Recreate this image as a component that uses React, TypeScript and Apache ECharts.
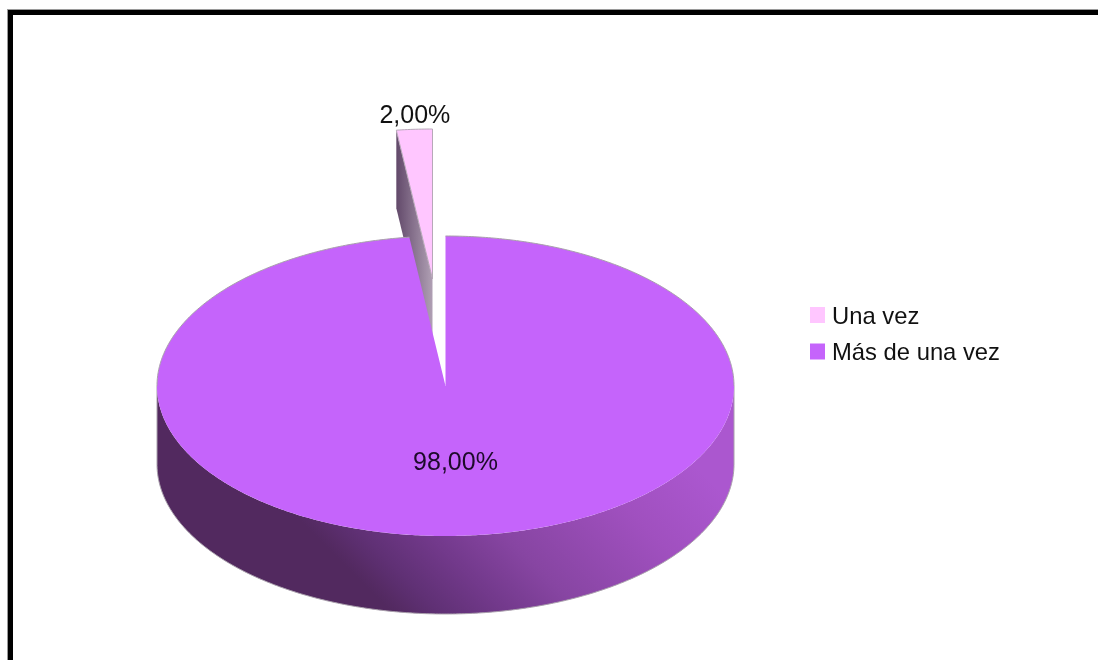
import React, { useEffect, useRef } from "react";
import * as echarts from "echarts";

const categories = ["Una vez", "Más de una vez"];
const values = [2, 98];
const colors = ["#ffc6ff", "#c564fb"];

const CX = 445.5, CY = 386, RX = 288.5, RY = 150, DEPTH = 78;
const EX = -13, EY = -107;
const FONT = '"Liberation Sans", Arial, sans-serif';
const EDGE = "#a9a0ac";

const total = values.reduce((a, b) => a + b, 0);
const fmt = (v: number) => ((v / total) * 100).toFixed(2).replace(".", ",") + "%";
const pt = (cx: number, cy: number, a: number) => [cx + RX * Math.sin(a), cy - RY * Math.cos(a)];
const arc = (cx: number, cy: number, a0: number, a1: number) => {
  const n = Math.max(2, Math.ceil(Math.abs(a1 - a0) / 0.01));
  const out: number[][] = [];
  for (let i = 0; i <= n; i++) out.push(pt(cx, cy, a0 + ((a1 - a0) * i) / n));
  return out;
};

const renderExploded = (_: any, api: any) => {
  const sweep = (api.value(0) / total) * Math.PI * 2;
  const cx = CX + EX, cy = CY + EY;
  const edge = pt(cx, cy, -sweep);
  const wall = [edge, [cx, cy], [cx, cy + DEPTH], [edge[0], edge[1] + DEPTH]];
  const top = [[cx, cy], ...arc(cx, cy, 0, -sweep)];
  return {
    type: "group",
    children: [
      {
        type: "polygon",
        shape: { points: wall },
        style: {
          fill: new echarts.graphic.LinearGradient(0, 0, 1, 0, [
            { offset: 0, color: "#62496a" },
            { offset: 1, color: "#b0a0b4" },
          ]),
        },
      },
      { type: "polygon", shape: { points: top }, style: { fill: colors[0], stroke: "#b7a9b8", lineWidth: 1 } },
      {
        type: "text",
        x: edge[0] + 18.5,
        y: edge[1] - 16,
        style: { text: fmt(api.value(0)), font: `25px ${FONT}`, fill: "#111", align: "center", verticalAlign: "middle" },
      },
    ],
  };
};

const renderMain = (_: any, api: any) => {
  const sweep = (api.value(0) / total) * Math.PI * 2;
  const front = arc(CX, CY, Math.PI / 2, (Math.PI * 3) / 2);
  const lower = front.map((p) => [p[0], p[1] + DEPTH]);
  const wall = [...front, ...lower.slice().reverse()];
  const top = [[CX, CY], ...arc(CX, CY, 0, sweep)];
  const backLeft = arc(CX, CY, -Math.PI / 2, sweep - Math.PI * 2);
  const backRight = arc(CX, CY, 0, Math.PI / 2);
  const outline = [front[0], ...lower, front[front.length - 1]];
  return {
    type: "group",
    children: [
      {
        type: "polygon",
        shape: { points: wall },
        style: {
          fill: new echarts.graphic.LinearGradient(
            200, 420, 425, 195,
            [
              { offset: 0, color: "#52295f" },
              { offset: 0.1, color: "#5f3074" },
              { offset: 0.25, color: "#72398b" },
              { offset: 0.42, color: "#8745a2" },
              { offset: 0.75, color: "#a050bf" },
              { offset: 1, color: "#ab57cf" },
            ],
            true,
          ),
        },
      },
      { type: "polyline", shape: { points: outline }, style: { stroke: EDGE, lineWidth: 1, fill: "none" } },
      { type: "polygon", shape: { points: top }, style: { fill: colors[1] } },
      { type: "polyline", shape: { points: backRight }, style: { stroke: EDGE, lineWidth: 1, fill: "none" } },
      { type: "polyline", shape: { points: backLeft }, style: { stroke: EDGE, lineWidth: 1, fill: "none" } },
      {
        type: "text",
        x: CX + 10,
        y: CY + 75,
        style: { text: fmt(api.value(0)), font: `25px ${FONT}`, fill: "#1d0a2a", align: "center", verticalAlign: "middle" },
      },
    ],
  };
};

export default function App() {
  const ref = useRef<HTMLDivElement>(null);
  useEffect(() => {
    document.body.style.margin = "0";
    const chart = echarts.init(ref.current!, undefined, { renderer: "svg" });
    chart.setOption({
      animation: false,
      backgroundColor: "#ffffff",
      legend: {
        left: 805,
        top: 295.5,
        orient: "vertical",
        icon: "rect",
        itemWidth: 15,
        itemHeight: 16,
        itemGap: 7.5,
        data: categories,
        selectedMode: false,
        textStyle: { fontFamily: FONT, fontSize: 23.8, color: "#111", padding: [0, 0, 7, 2], lineHeight: 22 },
      },
      graphic: {
        elements: [
          { type: "rect", z: -3, silent: true, shape: { x: 7, y: 9, width: 1300, height: 900 }, style: { fill: "#9a9a9a" } },
          { type: "rect", z: -2, silent: true, shape: { x: 8, y: 10, width: 1300, height: 900 }, style: { fill: "#000000" } },
          { type: "rect", z: -1, silent: true, shape: { x: 13, y: 15, width: 1300, height: 900 }, style: { fill: "#ffffff" } },
        ],
      },
      series: [
        { type: "custom", name: categories[0], coordinateSystem: "none", silent: true, itemStyle: { color: colors[0] }, data: [[values[0]]], renderItem: renderExploded },
        { type: "custom", name: categories[1], coordinateSystem: "none", silent: true, itemStyle: { color: colors[1] }, data: [[values[1]]], renderItem: renderMain },
      ],
    });
    return () => chart.dispose();
  }, []);
  return <div ref={ref} style={{ position: "fixed", left: 0, top: 0, width: 1098, height: 660, filter: "blur(0.4px)" }} />;
}
